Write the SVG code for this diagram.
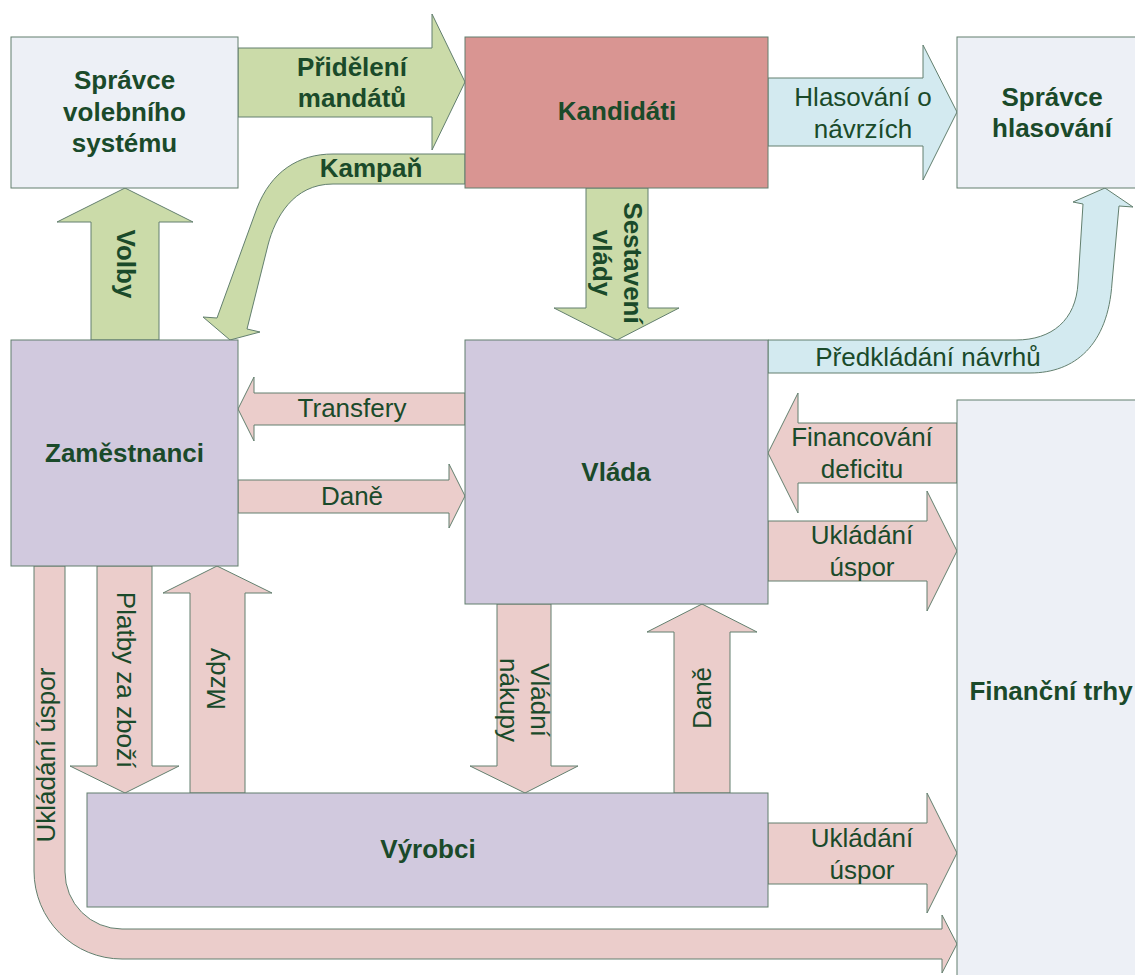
<svg xmlns="http://www.w3.org/2000/svg" width="1135" height="975" viewBox="0 0 1135 975">
<style>
text{font-family:"Liberation Sans",Arial,sans-serif;font-size:26px;fill:#1a4a2a;text-anchor:middle}
.b{font-weight:bold}
.g{fill:#cbdba9;stroke:#627f6e;stroke-width:1}
.bl{fill:#d3eaf0;stroke:#627f6e;stroke-width:1}
.p{fill:#ebcdcb;stroke:#627f6e;stroke-width:1}
.lt{fill:#edf0f6;stroke:#627f6e;stroke-width:1}
.pu{fill:#d1c9de;stroke:#627f6e;stroke-width:1}
.rd{fill:#d99592;stroke:#627f6e;stroke-width:1}
</style>
<rect width="1135" height="975" fill="#ffffff"/>
<g id="connectors">
<path class="g" d="M238,48 H432 V14 L465,82 L432,150 V117 H238 Z"/>
<path class="g" d="M465,154 L333,154 C298,154 271,172 257,208 L217,318 L203,317 L230,340 L260,332 L247,329 L268,245 C275,218 293,184 333,184 L465,184 Z"/>
<path class="g" d="M91,340 V222 H57 L125,188 L193,222 H159 V340 Z"/>
<path class="bl" d="M768,78 H923 V45 L957,112 L923,180 V146 H768 Z"/>
<path class="g" d="M586,188 V308 H554 L617,340 L679,308 H648 V188 Z"/>
<path class="bl" d="M768,340 L1016,340 C1052,340 1076,320 1078,283 L1083,204 L1073,202 L1105,188 L1133,207 L1119,206 L1112,283 C1108,345 1075,373 1030,373 L768,373 Z"/>
<path class="p" d="M465,393 H254 V377 L238,409 L254,441 V425 H465 Z"/>
<path class="p" d="M238,480 H449 V464 L465,496 L449,528 V513 H238 Z"/>
<path class="p" d="M957,423 H798 V393 L768,453 L798,513 V483 H957 Z"/>
<path class="p" d="M768,521 H927 V491 L957,551 L927,611 V581 H768 Z"/>
<path class="p" d="M97,566 V766 H70 L125,793 L179,766 H152 V566 Z"/>
<path class="p" d="M190,793 V593 H163 L217,566 L272,593 H245 V793 Z"/>
<path class="p" d="M497,604 V766 H470 L525,793 L578,766 H551 V604 Z"/>
<path class="p" d="M674,793 V632 H647 L702,604 L757,632 H730 V793 Z"/>
<path class="p" d="M768,823 H927 V793 L957,853 L927,913 V884 H768 Z"/>
<path class="p" d="M34,566 V871 A88,88 0 0 0 122,959 H942 V973 L957,944 L942,915 V929 H122 A57,57 0 0 1 65,872 V566 Z"/>
<text class="b" x="352" y="76">Přidělení</text>
<text class="b" x="352" y="107">mandátů</text>
<text class="b" x="371" y="177">Kampaň</text>
<text class="b" transform="translate(125,264) rotate(90)" y="8">Volby</text>
<text x="863" y="106">Hlasování o</text>
<text x="863" y="138">návrzích</text>
<g transform="translate(617,263) rotate(90)"><text class="b" y="-7">Sestavení</text><text class="b" y="24">vlády</text></g>
<text x="928" y="366">Předkládání návrhů</text>
<text x="352" y="417">Transfery</text>
<text x="352" y="505">Daně</text>
<text x="862" y="446">Financování</text>
<text x="862" y="478">deficitu</text>
<text x="862" y="544">Ukládání</text>
<text x="862" y="576">úspor</text>
<text transform="translate(125,680) rotate(90)" y="8">Platby za zboží</text>
<text transform="translate(217,679) rotate(-90)" y="8">Mzdy</text>
<g transform="translate(524,700) rotate(90)"><text y="-7">Vládní</text><text y="24">nákupy</text></g>
<text transform="translate(702,698) rotate(-90)" y="9">Daně</text>
<text transform="translate(49,755) rotate(-90)" y="6">Ukládání úspor</text>
<text x="862" y="847">Ukládání</text>
<text x="862" y="879">úspor</text>
</g>
<g id="spravce-volebniho-systemu">
<rect class="lt" x="11" y="37" width="227" height="151"/>
<text class="b" x="124.5" y="89">Správce</text>
<text class="b" x="124.5" y="121">volebního</text>
<text class="b" x="124.5" y="152">systému</text>
</g>
<g id="kandidati">
<rect class="rd" x="465" y="37" width="303" height="151"/>
<text class="b" x="617" y="120">Kandidáti</text>
</g>
<g id="spravce-hlasovani">
<rect class="lt" x="957" y="37" width="200" height="151"/>
<text class="b" x="1052" y="106">Správce</text>
<text class="b" x="1052" y="137">hlasování</text>
</g>
<g id="zamestnanci">
<rect class="pu" x="11" y="340" width="227" height="226"/>
<text class="b" x="124.5" y="462">Zaměstnanci</text>
</g>
<g id="vlada">
<rect class="pu" x="465" y="340" width="303" height="264"/>
<text class="b" x="616" y="481">Vláda</text>
</g>
<g id="vyrobci">
<rect class="pu" x="87" y="793" width="681" height="114"/>
<text class="b" x="428" y="858">Výrobci</text>
</g>
<g id="financni-trhy">
<rect class="lt" x="957" y="400" width="200" height="600"/>
<text class="b" x="1051" y="700">Finanční trhy</text>
</g>
</svg>
